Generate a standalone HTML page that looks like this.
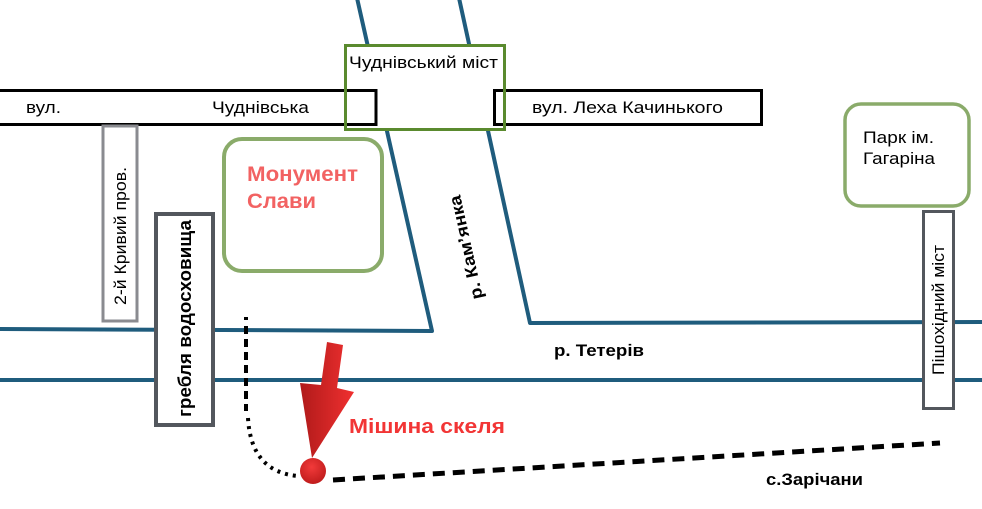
<!DOCTYPE html>
<html><head><meta charset="utf-8"><style>
html,body{margin:0;padding:0;background:#fff;}
svg{display:block;}
text{font-family:"Liberation Sans","DejaVu Sans",sans-serif;}
</style></head><body>
<svg width="982" height="509" viewBox="0 0 982 509" xmlns="http://www.w3.org/2000/svg">
<defs>
<linearGradient id="ag" x1="0" y1="0" x2="1" y2="0">
<stop offset="0" stop-color="#b01a1a"/><stop offset="1" stop-color="#f03030"/>
</linearGradient>
<radialGradient id="cg" cx="0.45" cy="0.35" r="0.65">
<stop offset="0" stop-color="#f23a3a"/><stop offset="1" stop-color="#c01c1c"/>
</radialGradient>
</defs>
<rect width="982" height="509" fill="#fff"/>
<!-- rivers -->
<g fill="none" stroke="#1f5c7d" stroke-width="4" stroke-linejoin="round">
<polyline points="0,329 432,331 357,-2"/>
<polyline points="459,-2 530,323 982,322"/>
<line x1="0" y1="380" x2="982" y2="380"/>
</g>
<!-- Chudnivskyi mist white fill -->
<rect x="345.5" y="45.5" width="159" height="84" fill="#fff"/>
<!-- streets -->
<rect x="-5" y="90.5" width="381" height="34" fill="none" stroke="#000" stroke-width="3"/>
<rect x="494.5" y="90.5" width="267" height="34" fill="none" stroke="#000" stroke-width="3"/>
<rect x="345.5" y="45.5" width="159" height="84" fill="none" stroke="#5a8a2e" stroke-width="3"/>
<text x="349" y="68" font-size="17" textLength="149" lengthAdjust="spacingAndGlyphs">Чуднівський міст</text>
<text x="26" y="113" font-size="17" textLength="35" lengthAdjust="spacingAndGlyphs">вул.</text>
<text x="212" y="113" font-size="17" textLength="97" lengthAdjust="spacingAndGlyphs">Чуднівська</text>
<text x="532" y="113" font-size="17" textLength="191" lengthAdjust="spacingAndGlyphs">вул. Леха Качинького</text>
<!-- 2-й Кривий пров. -->
<rect x="103" y="126" width="34" height="195" fill="#fff" stroke="#8a8b90" stroke-width="3"/>
<text transform="translate(126,305) rotate(-90)" font-size="17" textLength="138" lengthAdjust="spacingAndGlyphs">2-й Кривий пров.</text>
<!-- гребля -->
<rect x="156" y="214" width="57" height="211" fill="#fff" stroke="#53575d" stroke-width="4"/>
<text transform="translate(191,417) rotate(-90)" font-size="18" font-weight="bold" textLength="197" lengthAdjust="spacingAndGlyphs">гребля водосховища</text>
<!-- Монумент -->
<rect x="224" y="139" width="158" height="132" rx="18" fill="#fff" stroke="#8aab6a" stroke-width="4"/>
<text x="247" y="181" font-size="21" font-weight="bold" fill="#f26262" textLength="111" lengthAdjust="spacingAndGlyphs">Монумент</text>
<text x="247" y="208" font-size="21" font-weight="bold" fill="#f26262" textLength="69" lengthAdjust="spacingAndGlyphs">Слави</text>
<!-- Парк -->
<rect x="845" y="104" width="124" height="102" rx="16" fill="#fff" stroke="#8aab6a" stroke-width="3.5"/>
<text x="863" y="143" font-size="17" textLength="71" lengthAdjust="spacingAndGlyphs">Парк ім.</text>
<text x="863" y="164" font-size="17" textLength="72" lengthAdjust="spacingAndGlyphs">Гагаріна</text>
<!-- Пішохідний міст -->
<rect x="923.5" y="211.5" width="30" height="197" fill="#fff" stroke="#53575d" stroke-width="3"/>
<text transform="translate(944,375) rotate(-90)" font-size="17" textLength="130" lengthAdjust="spacingAndGlyphs">Пішохідний міст</text>
<!-- labels -->
<text transform="translate(483,298) rotate(-102.5)" font-size="17" font-weight="bold" textLength="106" lengthAdjust="spacingAndGlyphs">р. Кам’янка</text>
<text x="554" y="356" font-size="17" font-weight="bold" textLength="90" lengthAdjust="spacingAndGlyphs">р. Тетерів</text>
<text x="349" y="433" font-size="20" font-weight="bold" fill="#f23535" textLength="156" lengthAdjust="spacingAndGlyphs">Мішина скеля</text>
<text x="766" y="485" font-size="17" font-weight="bold" textLength="97" lengthAdjust="spacingAndGlyphs">с.Зарічани</text>
<!-- paths -->
<line x1="246" y1="317" x2="246" y2="411" stroke="#000" stroke-width="4" stroke-dasharray="3 6 8 5 8 5 8 5 8 5 8 5 8 5 8 5"/>
<path d="M248,418 Q251,472 298,476" fill="none" stroke="#000" stroke-width="4" stroke-dasharray="3 5"/>
<line x1="333" y1="480" x2="940" y2="443" stroke="#000" stroke-width="5" stroke-dasharray="12 8"/>
<!-- arrow -->
<polygon points="327,342 343,345 337,388 354,392 312,458 300,383 321,385" fill="url(#ag)"/>
<circle cx="313" cy="471" r="13" fill="url(#cg)"/>
</svg>
</body></html>
